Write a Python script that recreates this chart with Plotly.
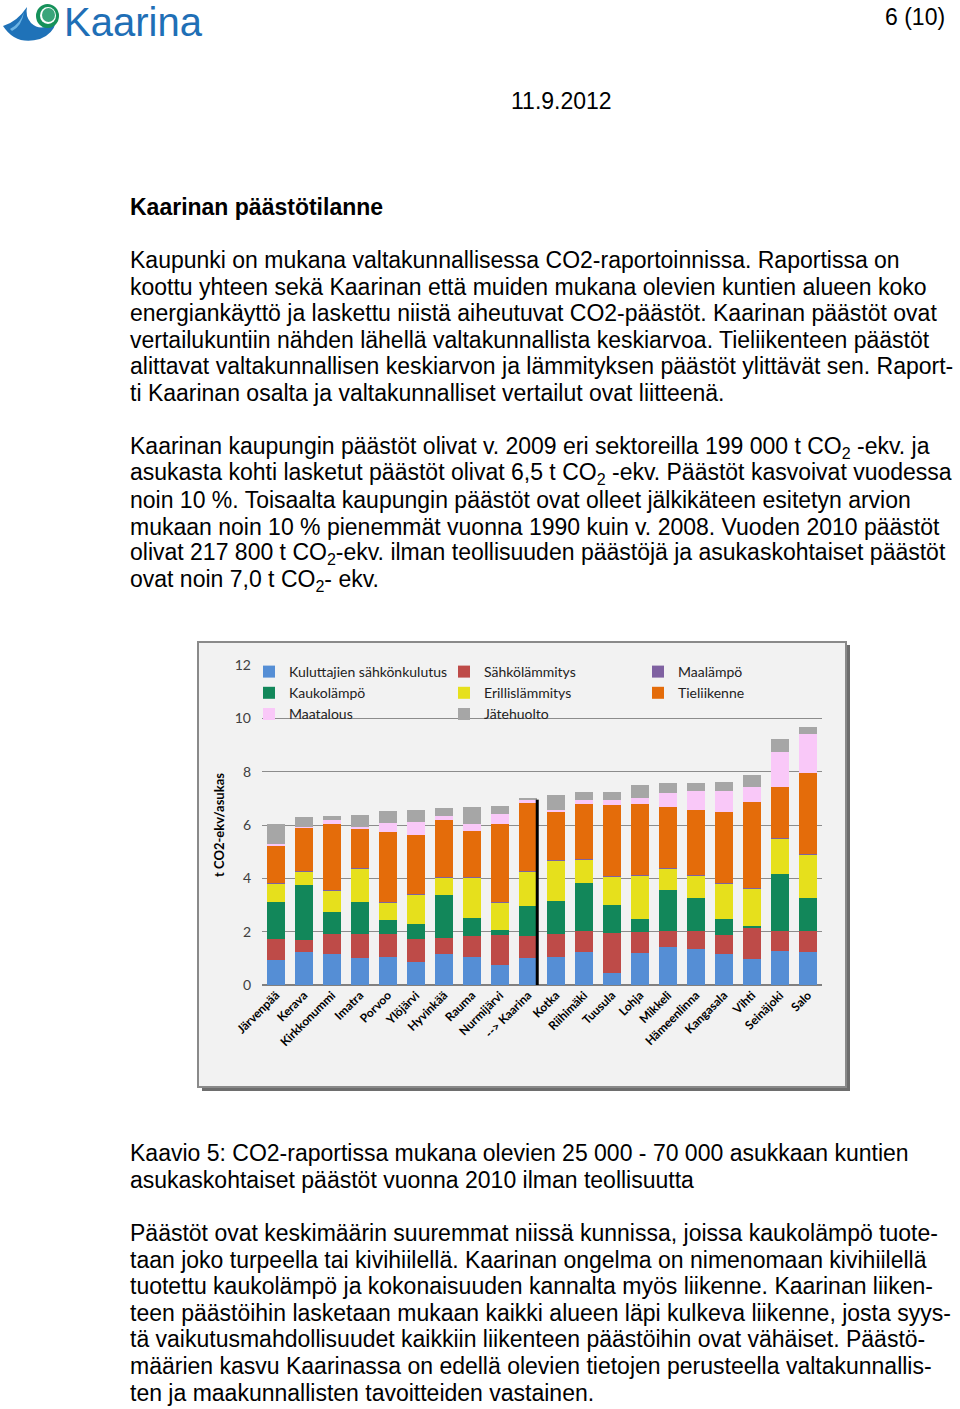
import plotly.graph_objects as go

W, H = 960, 1409


def px(x):
    return x / W


def py(y):
    return 1 - y / H


# chart data (t CO2-ekv / asukas, 2010)
kunnat = ["Järvenpää", "Kerava", "Kirkkonummi", "Imatra", "Porvoo", "Ylöjärvi", "Hyvinkää",
          "Rauma", "Nurmijärvi", "--> Kaarina", "Kotka", "Riihimäki", "Tuusula", "Lohja",
          "Mikkeli", "Hämeenlinna", "Kangasala", "Vihti", "Seinäjoki", "Salo"]

kuluttajien_sahko = [0.94, 1.23, 1.16, 1.01, 1.06, 0.86, 1.18, 1.06, 0.75, 1.02,
                     1.04, 1.24, 0.46, 1.19, 1.44, 1.36, 1.16, 0.96, 1.26, 1.24]
sahkolammitys = [0.77, 0.45, 0.77, 0.90, 0.85, 0.85, 0.60, 0.77, 1.12, 0.82,
                 0.87, 0.80, 1.48, 0.80, 0.57, 0.65, 0.72, 1.18, 0.75, 0.77]
kaukolampo = [1.41, 2.07, 0.80, 1.21, 0.51, 0.58, 1.59, 0.70, 0.19, 1.12,
              1.25, 1.80, 1.05, 0.47, 1.57, 1.27, 0.58, 0.09, 2.14, 1.25]
erillislammitys = [0.68, 0.49, 0.81, 1.23, 0.68, 1.11, 0.67, 1.51, 1.03, 1.29,
                   1.50, 0.87, 1.09, 1.63, 0.78, 0.83, 1.35, 1.37, 1.35, 1.65]
maalampo = [0.02, 0.02, 0.02, 0.02, 0.02, 0.02, 0.02, 0.02, 0.02, 0.02,
            0.02, 0.02, 0.02, 0.02, 0.02, 0.02, 0.02, 0.02, 0.02, 0.02]
tieliikenne = [1.41, 1.63, 2.46, 1.47, 2.62, 2.19, 2.11, 1.72, 2.93, 2.54,
               1.80, 2.07, 2.66, 2.69, 2.28, 2.43, 2.65, 3.24, 1.91, 3.03]
maatalous = [0.06, 0.02, 0.17, 0.10, 0.33, 0.52, 0.17, 0.26, 0.36, 0.14,
             0.08, 0.12, 0.17, 0.20, 0.55, 0.71, 0.78, 0.57, 1.32, 1.44]
jatehuolto = [0.75, 0.38, 0.15, 0.43, 0.47, 0.44, 0.30, 0.63, 0.32, 0.08,
              0.56, 0.33, 0.30, 0.51, 0.37, 0.31, 0.35, 0.45, 0.48, 0.28]

y_ticks = [0, 2, 4, 6, 8, 10, 12]

# stacking order bottom -> top; the legend is three columns (legend, legend2, legend3)
sarjat = [
    ("Kuluttajien sähkönkulutus", kuluttajien_sahko, "#558ED5", "legend"),
    ("Sähkölämmitys", sahkolammitys, "#BE4B48", "legend2"),
    ("Kaukolämpö", kaukolampo, "#12875A", "legend"),
    ("Erillislämmitys", erillislammitys, "#E6E01C", "legend2"),
    ("Maalämpö", maalampo, "#7F61A1", "legend3"),
    ("Tieliikenne", tieliikenne, "#E46C0A", "legend3"),
    ("Maatalous", maatalous, "#F9C8F8", "legend"),
    ("Jätehuolto", jatehuolto, "#A6A6A6", "legend2"),
]

# page text
otsikko = "Kaarinan päästötilanne"
kappale1 = [
    "Kaupunki on mukana valtakunnallisessa CO2-raportoinnissa. Raportissa on",
    "koottu yhteen sekä Kaarinan että muiden mukana olevien kuntien alueen koko",
    "energiankäyttö ja laskettu niistä aiheutuvat CO2-päästöt. Kaarinan päästöt ovat",
    "vertailukuntiin nähden lähellä valtakunnallista keskiarvoa. Tieliikenteen päästöt",
    "alittavat valtakunnallisen keskiarvon ja lämmityksen päästöt ylittävät sen. Raport-",
    "ti Kaarinan osalta ja valtakunnalliset vertailut ovat liitteenä.",
]
kappale2 = [
    "Kaarinan kaupungin päästöt olivat v. 2009 eri sektoreilla 199 000 t CO<sub>2</sub> -ekv. ja",
    "asukasta kohti lasketut päästöt olivat 6,5 t CO<sub>2</sub> -ekv. Päästöt kasvoivat vuodessa",
    "noin 10 %. Toisaalta kaupungin päästöt ovat olleet jälkikäteen esitetyn arvion",
    "mukaan noin 10 % pienemmät vuonna 1990 kuin v. 2008. Vuoden 2010 päästöt",
    "olivat 217 800 t CO<sub>2</sub>-ekv. ilman teollisuuden päästöjä ja asukaskohtaiset päästöt",
    "ovat noin 7,0 t CO<sub>2</sub>- ekv.",
]
kuvateksti = [
    "Kaavio 5: CO2-raportissa mukana olevien 25 000 - 70 000 asukkaan kuntien",
    "asukaskohtaiset päästöt vuonna 2010 ilman teollisuutta",
]
kappale3 = [
    "Päästöt ovat keskimäärin suuremmat niissä kunnissa, joissa kaukolämpö tuote-",
    "taan joko turpeella tai kivihiilellä. Kaarinan ongelma on nimenomaan kivihiilellä",
    "tuotettu kaukolämpö ja kokonaisuuden kannalta myös liikenne. Kaarinan liiken-",
    "teen päästöihin lasketaan mukaan kaikki alueen läpi kulkeva liikenne, josta syys-",
    "tä vaikutusmahdollisuudet kaikkiin liikenteen päästöihin ovat vähäiset. Päästö-",
    "määrien kasvu Kaarinassa on edellä olevien tietojen perusteella valtakunnallis-",
    "ten ja maakunnallisten tavoitteiden vastainen.",
]

fig = go.Figure()

for nimi, arvot, vari, leg in sarjat:
    fig.add_trace(go.Bar(x=kunnat, y=arvot, name=nimi, marker_color=vari,
                         marker_line_width=0, legend=leg))

CHART_FONT = "Lato"
TEXT_FONT = "Liberation Sans"


def legend_col(x):
    return dict(orientation="v", x=px(x), y=py(656), xanchor="left", yanchor="top",
                bgcolor="rgba(0,0,0,0)", itemwidth=30, traceorder="normal",
                tracegroupgap=0, font=dict(family=CHART_FONT, size=14, color="#222"))


fig.update_layout(
    width=W, height=H, autosize=False,
    margin=dict(l=0, r=0, t=0, b=0, autoexpand=False),
    paper_bgcolor="white", plot_bgcolor="#fefefe",
    barmode="stack", bargap=0.39,
    showlegend=True,
    legend=legend_col(249), legend2=legend_col(444), legend3=legend_col(638),
    xaxis=dict(domain=[px(262), px(822)], type="category", tickangle=-45, automargin=False,
               tickfont=dict(family=CHART_FONT, size=12, color="black", weight="bold"),
               showgrid=False, showline=False, ticks="", zeroline=False),
    yaxis=dict(domain=[py(985), py(665)], range=[0, 12], tickvals=y_ticks, automargin=False,
               showgrid=True, gridcolor="#8c8c8c", gridwidth=1,
               zeroline=True, zerolinecolor="#808080", zerolinewidth=1.5,
               showline=False, ticks="", ticklabelstandoff=10,
               tickfont=dict(family=CHART_FONT, size=14, color="#404040"),
               title=dict(text="t CO2-ekv/asukas", standoff=7,
                          font=dict(family=CHART_FONT, size=13, color="black", weight="bold"))),
)

# chart frame with shadow
shapes = [
    dict(type="rect", xref="paper", yref="paper", layer="below",
         x0=px(202), x1=px(850), y0=py(1091), y1=py(645),
         fillcolor="#6e6e6e", line_width=0),
    dict(type="rect", xref="paper", yref="paper", layer="below",
         x0=px(198), x1=px(846), y0=py(1087), y1=py(642),
         fillcolor="#f2f2f2", line=dict(color="#8a8a8a", width=2)),
]

# black marker line on Kaarina's bar
i_k = kunnat.index("--> Kaarina")
kaarina_yht = sum(s[1][i_k] for s in sarjat)
shapes.append(dict(type="line", xref="x", yref="y", x0=i_k + 0.33, x1=i_k + 0.33,
                   y0=0, y1=kaarina_yht - 0.08, line=dict(color="black", width=3)))


# logo
def path(cmds):
    out = []
    for c, pts in cmds:
        out.append(c + " ".join(f"{px(x):.5f},{py(y):.5f}" for x, y in pts))
    return " ".join(out) + " Z"


shapes.append(dict(type="path", xref="paper", yref="paper", fillcolor="#1f72b8", line_width=0,
                   path=path([("M", [(3, 26)]), ("Q", [(16, 46), (40, 39)]),
                              ("Q", [(53, 34), (56, 22)]), ("L", [(49, 25)]),
                              ("Q", [(40, 31), (31, 23)]), ("Q", [(25, 16), (27, 7)]),
                              ("Q", [(17, 22), (3, 26)])])))
shapes.append(dict(type="path", xref="paper", yref="paper", fillcolor="#6cb4e4", line_width=0,
                   path=path([("M", [(10, 29)]), ("Q", [(20, 24), (24, 12)]),
                              ("Q", [(22, 26), (12, 31)])])))
shapes.append(dict(type="circle", xref="paper", yref="paper", fillcolor="#16915a", line_width=0,
                   x0=px(36), x1=px(59), y0=py(28), y1=py(4)))
shapes.append(dict(type="circle", xref="paper", yref="paper", fillcolor="white", line_width=0,
                   x0=px(40), x1=px(56), y0=py(24), y1=py(7)))
shapes.append(dict(type="circle", xref="paper", yref="paper", fillcolor="#3aa57a", line_width=0,
                   x0=px(42), x1=px(55), y0=py(22), y1=py(8)))

fig.update_layout(shapes=shapes)

annotations = [
    dict(text="Kaarina", x=px(62), y=py(22), xanchor="left", yanchor="middle",
         font=dict(family=TEXT_FONT, size=40, color="#1f6fb6")),
    dict(text="6 (10)", x=px(947), y=py(17), xanchor="right", yanchor="middle",
         font=dict(family=TEXT_FONT, size=23, color="black")),
    dict(text="11.9.2012", x=px(509), y=py(101), xanchor="left", yanchor="middle",
         font=dict(family=TEXT_FONT, size=23, color="black")),
    dict(text="<b>" + otsikko + "</b>", x=px(128), y=py(207), xanchor="left", yanchor="middle",
         font=dict(family=TEXT_FONT, size=23, color="black")),
]

LINE = 26.6
for alku, rivit in [(260, kappale1), (447, kappale2), (1153, kuvateksti), (1233, kappale3)]:
    for n, rivi in enumerate(rivit):
        annotations.append(dict(text=rivi, x=px(128), y=py(alku + n * LINE),
                                xanchor="left", yanchor="middle",
                                font=dict(family=TEXT_FONT, size=23, color="black")))

for a in annotations:
    a.update(xref="paper", yref="paper", showarrow=False)
fig.update_layout(annotations=annotations)

# page body margin off so the 960x1409 figure sits at the window's top-left corner
fig.write_html("out.html", config={"displayModeBar": False},
               post_script="document.body.style.margin='0px';")
